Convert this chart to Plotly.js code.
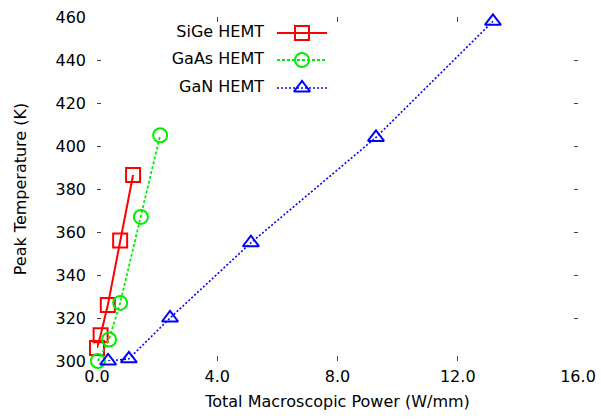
<!DOCTYPE html>
<html><head><meta charset="utf-8">
<script src="https://cdn.plot.ly/plotly-3.0.1.min.js"></script>
<style>html,body{margin:0;padding:0;background:#fff}#plot{width:601px;height:419px}</style>
</head><body><div id="plot"></div>
<script>
// Data
const sigeX = [0.0, 0.12, 0.36, 0.77, 1.2];
const sigeY = [306, 312, 326, 356, 386.5];
const gaasX = [0.03, 0.4, 0.77, 1.46, 2.1];
const gaasY = [300, 310, 327, 367, 405];
const ganX = [0.37, 1.06, 2.43, 5.12, 9.28, 13.17];
const ganY = [300, 301, 320, 355, 404, 458];
const seriesNames = ["SiGe HEMT", "GaAs HEMT", "GaN HEMT"];
const xTickVals = [0, 4, 8, 12, 16];
const xTickText = ["0.0", "4.0", "8.0", "12.0", "16.0"];
const yTickVals = [300, 320, 340, 360, 380, 400, 420, 440, 460];

const RED = "#ff0000", GREEN = "#00ee00", BLUE = "#0000ff";
const FONT = "DejaVu Sans, Arial, sans-serif";

const styles = [
  {color: RED, dash: "solid", width: 2, symbol: "square-open", size: 14},
  {color: GREEN, dash: "3px,2px", width: 1.8, symbol: "circle-open", size: 14},
  {color: BLUE, dash: "2px,2px", width: 1.6, symbol: "triangle-up-open", size: 14}
];
const xs = [sigeX, gaasX, ganX], ys = [sigeY, gaasY, ganY];

const traces = [];
for (let i = 0; i < 3; i++) {
  const s = styles[i];
  traces.push({
    x: xs[i], y: ys[i], mode: "lines+markers", name: seriesNames[i],
    line: {color: s.color, dash: s.dash, width: s.width},
    marker: {symbol: s.symbol, size: s.size, color: s.color, line: {color: s.color, width: 2}},
    cliponaxis: false, showlegend: false
  });
}
// Custom legend (text left of sample) on a pixel-space overlay axis
const legRows = [16, 43, 71];
for (let i = 0; i < 3; i++) {
  const s = styles[i];
  traces.push({
    x: [180, 205, 230], y: [legRows[i], legRows[i], legRows[i]],
    xaxis: "x2", yaxis: "y2", mode: "lines", showlegend: false, hoverinfo: "skip",
    line: {color: s.color, dash: s.dash, width: s.width}, cliponaxis: false
  });
  traces.push({
    x: [205], y: [legRows[i]], xaxis: "x2", yaxis: "y2", mode: "markers",
    showlegend: false, hoverinfo: "skip", cliponaxis: false,
    marker: {symbol: s.symbol, size: s.size, color: s.color, line: {color: s.color, width: 2}}
  });
  traces.push({
    x: [167], y: [legRows[i]], xaxis: "x2", yaxis: "y2", mode: "text",
    text: [seriesNames[i]], textposition: "middle left", showlegend: false, hoverinfo: "skip",
    textfont: {family: FONT, size: 16, color: "#000"}, cliponaxis: false
  });
}

const layout = {
  width: 601, height: 419,
  margin: {l: 97, r: 23, t: 17, b: 58},
  paper_bgcolor: "#fff", plot_bgcolor: "#fff",
  showlegend: false,
  font: {family: FONT, size: 16, color: "#000"},
  xaxis: {
    range: [0, 16], tickvals: xTickVals, ticktext: xTickText,
    showgrid: false, zeroline: false, showline: false,
    ticks: "inside", ticklen: 5, tickcolor: "#444", mirror: "ticks",
    ticklabelstandoff: 4,
    tickfont: {family: FONT, size: 16, color: "#000"},
    title: {text: "Total Macroscopic Power (W/mm)", font: {family: FONT, size: 16, color: "#000"}, standoff: 10},
    automargin: false
  },
  yaxis: {
    range: [300, 460], tickvals: yTickVals,
    showgrid: false, zeroline: false, showline: false,
    ticks: "inside", ticklen: 4, tickcolor: "#444", mirror: "ticks",
    ticklabelstandoff: 10,
    tickfont: {family: FONT, size: 16, color: "#000"},
    title: {text: "Peak Temperature (K)", font: {family: FONT, size: 16, color: "#000"}, standoff: 24},
    automargin: false
  },
  xaxis2: {overlaying: "x", range: [0, 481], visible: false, fixedrange: true},
  yaxis2: {overlaying: "y", range: [344, 0], visible: false, fixedrange: true}
};

Plotly.newPlot("plot", traces, layout, {displayModeBar: false, staticPlot: true});
</script></body></html>
